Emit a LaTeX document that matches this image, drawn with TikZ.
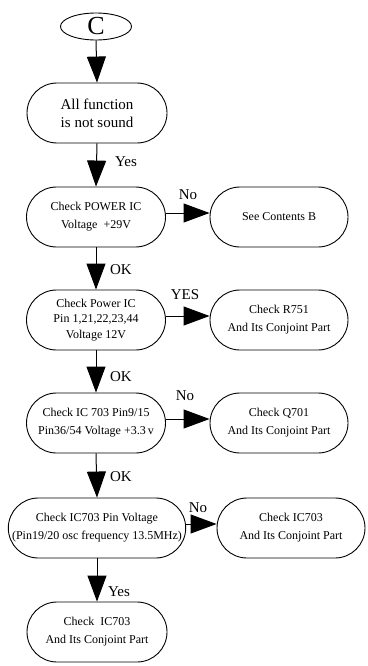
\documentclass[tikz,border=0pt]{standalone}
\usepackage{fontspec}
\setmainfont{Liberation Serif}
\usetikzlibrary{arrows.meta,shapes.geometric,shapes.misc}
\newcommand{\pixel}{1pt}
\newcommand{\boxfont}{\fontsize{12}{18}\selectfont}
\newcommand{\tagfont}{\fontsize{15}{18}\selectfont}

\begin{document}
\begin{tikzpicture}[x=\pixel,y=-\pixel,
	pill/.style={draw, line width=0.9pt, rounded rectangle, minimum height=60, inner sep=0, align=center, font=\boxfont},
	flow/.style={draw, line width=1pt, -{Triangle[length=26pt,width=19pt]}},
	tag/.style={font=\tagfont, inner sep=0}]
	\useasboundingbox (0,0) rectangle (367,666);

	% main column
	\node[draw, line width=0.9pt, ellipse, minimum width=71, minimum height=27, inner sep=0, font=\fontsize{26}{26}\selectfont] (start) at (96,26.5) {C};
	\node[pill, minimum width=140, font=\fontsize{15}{18}\selectfont] (sound) at (97,113) {All function\\is not sound};
	\node[pill, minimum width=139] (power) at (96,217) {Check POWER IC\\Voltage\ \ +29V};
	\node[pill, minimum width=139, font=\fontsize{12}{15.5}\selectfont] (pins) at (96,320) {Check Power IC\\Pin 1,21,22,23,44\\Voltage 12V};
	\node[pill, minimum width=139] (ic703) at (96,423) {Check IC 703 Pin9/15\\Pin36/54 Voltage +3.3\,v};
	\node[pill, minimum width=175] (osc) at (97,528) {Check IC703 Pin Voltage\\(Pin19/20 osc frequency 13.5MHz)};
	\node[pill, minimum width=140] (final) at (97,632) {Check\ \ IC703\\And Its Conjoint Part};

	% right column
	\node[pill, minimum width=138] (contB) at (279,217) {See Contents B};
	\node[pill, minimum width=138] (r751) at (279,320) {Check R751\\And Its Conjoint Part};
	\node[pill, minimum width=138] (q701) at (279,423) {Check Q701\\And Its Conjoint Part};
	\node[pill, minimum width=148] (icpart) at (291,528) {Check IC703\\And Its Conjoint Part};

	\draw[flow] (start.south) -- (sound.north);
	\draw[flow] (sound.south) -- (power.north);
	\draw[flow] (power.south) -- (pins.north);
	\draw[flow] (pins.south) -- (ic703.north);
	\draw[flow] (ic703.south) -- (osc.north);
	\draw[flow] (osc.south) -- (final.north);

	\draw[flow] ([yshift=4pt]power.east) -- ([yshift=4pt]contB.west);
	\draw[flow] ([yshift=4pt]pins.east) -- ([yshift=4pt]r751.west);
	\draw[flow] ([yshift=4pt]ic703.east) -- ([yshift=4pt]q701.west);
	\draw[flow] ([yshift=4pt]osc.east) -- ([yshift=4pt]icpart.west);

	\node[tag] (yes1) at (126,162) {Yes};
	\node[tag] (ok1) at (121,270) {OK};
	\node[tag] (ok2) at (121,377) {OK};
	\node[tag] (ok3) at (121,477) {OK};
	\node[tag] (yes2) at (119,592) {Yes};
	\node[tag] (no1) at (188,195) {No};
	\node[tag] (yes3) at (185,295) {YES};
	\node[tag] (no2) at (185,396) {No};
	\node[tag] (no3) at (198,508) {No};
\end{tikzpicture}
\end{document}
